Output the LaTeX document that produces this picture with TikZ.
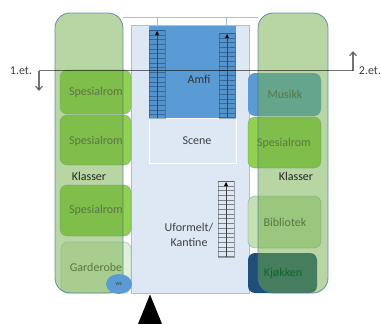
\documentclass[tikz,border=0pt]{standalone}
\usepackage{fontspec}
\setmainfont{Carlito}
\usetikzlibrary{arrows.meta,shapes.geometric}
\definecolor{hallfill}{HTML}{DEE8F5}
\definecolor{hallline}{HTML}{9DC3E6}
\definecolor{amfiblue}{HTML}{5B9BD5}
\definecolor{wingfill}{HTML}{70AD47}
\definecolor{wingline}{HTML}{41719C}
\definecolor{roomgreen}{HTML}{92D050}
\definecolor{lightgreen}{HTML}{C5E0B4}
\definecolor{palegreen}{HTML}{E2F0D9}
\definecolor{darkblue}{HTML}{1F4E79}
\definecolor{txt}{HTML}{404040}
\tikzset{
  x=1pt,y=-1pt,
  base/.style={font=\fontsize{12}{14}\selectfont,text=txt,inner sep=0pt},
  roomtext/.style={base},
  room/.style={rounded corners=7pt,line width=.8pt,draw=wingline,draw opacity=.3},
  wing/.style={rounded corners=15pt,fill=wingfill,fill opacity=.5,draw=wingline,draw opacity=.75,line width=.8pt},
  section/.style={draw=black,draw opacity=.55,line width=1.2pt},
  sectiontip/.style={-{Straight Barb[length=4pt,width=7pt]}},
  rung/.style={line width=.35pt},
}
\newcommand{\stairflight}[6]{% x0, y0, x1, y1, colour, fill opacity
  \fill[#5,fill opacity=#6] (#1,#2) rectangle (#3,#4);
  \draw[#5,line width=.5pt,draw opacity=.45] (#1,#2) rectangle (#3,#4);
  \pgfmathsetmacro{\firstrung}{#2+4.7}
  \foreach \yy in {#2,\firstrung,...,#4}{\draw[#5,rung,draw opacity=.6] (#1,\yy) -- (#3,\yy);}
  \draw[#5,line width=.35pt] ({(#1+#3)/2},#2+2) -- ({(#1+#3)/2},#4);
  \fill[black] ({(#1+#3)/2-2},#2+5) -- ({(#1+#3)/2+2},#2+5) -- ({(#1+#3)/2},#2+1) -- cycle;
}
\begin{document}
\begin{tikzpicture}
\useasboundingbox (0,0) rectangle (381,324);
% top outline
\draw[hallline,line width=.6pt] (123,17) -- (258,17);
\draw[hallline,line width=.6pt] (157,17) -- (157,25);
\draw[hallline,line width=.6pt] (226,17) -- (226,25);
% hall
\node[draw=hallline,fill=hallfill,line width=.9pt,minimum width=118pt,minimum height=268pt,inner sep=0pt,anchor=north west] (hall) at (131,25) {};
% amfi and scene
\node[fill=amfiblue,minimum width=87pt,minimum height=92pt,inner sep=0pt,anchor=north west] (amfi) at (148.5,26) {};
\node[base,text=black!80] (amfilabel) at (199,79) {Amfi};
\node[draw=white,line width=1pt,minimum width=87pt,minimum height=45pt,inner sep=0pt,anchor=north west] (scene) at (148.5,118) {};
\node[base] (scenelabel) at (197,141) {Scene};
\stairflight{149}{30}{165}{118}{darkblue}{.1}
\stairflight{219}{33}{235}{118}{darkblue}{.1}
\stairflight{218}{181}{234}{257}{black!75}{0}
\node[base,align=center] (uformelt) at (189,234.5) {Uformelt/\\[1pt]Kantine};
% left rooms
\draw[room,fill=roomgreen] (60,70) rectangle (131,114);
\draw[room,fill=roomgreen] (60,115) rectangle (131,165);
\draw[room,fill=roomgreen] (60,185) rectangle (131,236);
\draw[room,fill=palegreen] (61,242) rectangle (131,293);
\node[roomtext] (sp1) at (96,92) {Spesialrom};
\node[roomtext] (sp2) at (96,141) {Spesialrom};
\node[roomtext] (sp3) at (96,210) {Spesialrom};
\node[roomtext] (gard) at (96,267) {Garderobe};
% right rooms
\fill[amfiblue,rounded corners=7pt] (248,73) rectangle (321,116);
\draw[room,fill=roomgreen] (248,117) rectangle (321,168);
\draw[room,fill=lightgreen] (248,196) rectangle (321,248);
\fill[darkblue,rounded corners=7pt] (248,253) rectangle (317,293);
\node[roomtext] (musikk) at (285,94) {Musikk};
\node[roomtext] (sp4) at (284,143) {Spesialrom};
\node[roomtext] (bib) at (285,222) {Bibliotek};
% translucent wings
\path[wing] (55,13) rectangle (123,293);
\path[wing] (258,13) rectangle (328,293);
\node[base,text=black!50!darkblue!70!green] (kjokken) at (283,273) {Kjøkken};
% wc
\node[ellipse,fill=amfiblue,minimum width=26pt,minimum height=20pt,inner sep=0pt] (wc) at (119,284) {};
\node[font=\fontsize{6}{7}\selectfont,text=txt,inner sep=0pt] (wclabel) at (wc) {wc};
\node[base,text=black!85] (klv) at (89,176) {Klasser};
\node[base,text=black!85] (klh) at (296,176) {Klasser};
% section line
\node[base] (et1) at (21,71) {1.et.};
\node[base] (et2) at (370,71) {2.et.};
\coordinate (sl) at (39,70.5);
\coordinate (sr) at (353,70.5);
\coordinate (sle) at (39,91);
\coordinate (sre) at (353,51);
\draw[section,sectiontip] (sl) -- (sle);
\draw[section] (sl) -- (sr);
\draw[section,sectiontip] (sr) -- (sre);
% entrance
\fill[black] (150,294.5) -- (162,324) -- (138,324) -- cycle;
\end{tikzpicture}
\end{document}
